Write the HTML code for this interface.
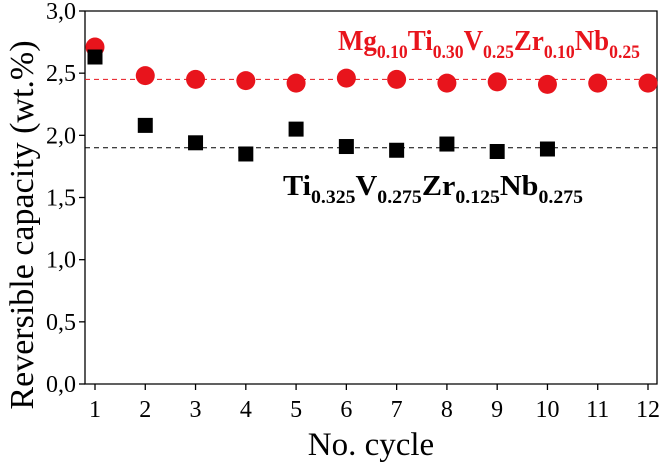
<!DOCTYPE html>
<html><head><meta charset="utf-8"><style>
body{margin:0;background:#fff}
svg{font-family:"Liberation Serif",serif}
</style></head><body>
<svg width="660" height="464" viewBox="0 0 660 464">
<g id="plot"></g>
<text x="338" y="50" font-size="29" font-weight="bold" fill="#e8141c" textLength="302" lengthAdjust="spacingAndGlyphs">Mg<tspan font-size="19" dy="8">0.10</tspan><tspan dy="-8">Ti</tspan><tspan font-size="19" dy="8">0.30</tspan><tspan dy="-8">V</tspan><tspan font-size="19" dy="8">0.25</tspan><tspan dy="-8">Zr</tspan><tspan font-size="19" dy="8">0.10</tspan><tspan dy="-8">Nb</tspan><tspan font-size="19" dy="8">0.25</tspan></text>
<text x="283" y="195" font-size="29" font-weight="bold" fill="#000" textLength="300" lengthAdjust="spacingAndGlyphs">Ti<tspan font-size="19" dy="8">0.325</tspan><tspan dy="-8">V</tspan><tspan font-size="19" dy="8">0.275</tspan><tspan dy="-8">Zr</tspan><tspan font-size="19" dy="8">0.125</tspan><tspan dy="-8">Nb</tspan><tspan font-size="19" dy="8">0.275</tspan></text>
<text transform="translate(33,225) rotate(-90)" text-anchor="middle" font-size="34">Reversible capacity (wt.%)</text>
<text x="371" y="455" text-anchor="middle" font-size="33">No. cycle</text>
</svg>
<script>
const cycles=[1,2,3,4,5,6,7,8,9,10,11,12];
const redValues=[2.71,2.48,2.45,2.44,2.42,2.46,2.45,2.42,2.43,2.41,2.42,2.42];
const blackCycles=[1,2,3,4,5,6,7,8,9,10];
const blackValues=[2.63,2.08,1.94,1.85,2.05,1.91,1.88,1.93,1.87,1.89];
const redMean=2.45, blackMean=1.90;
const yTicks=[0,0.5,1,1.5,2,2.5,3];
const yTickLabels=["0,0","0,5","1,0","1,5","2,0","2,5","3,0"];
const xTickLabels=["1","2","3","4","5","6","7","8","9","10","11","12"];
const L=85,R=657,T=11,B=384;
const xS=c=>95+(c-1)*(648-95)/11;
const yS=v=>B-(v/3)*(B-T);
const NS="http://www.w3.org/2000/svg";
const g=document.getElementById('plot');
function mk(t,a){const e=document.createElementNS(NS,t);for(const k in a)e.setAttribute(k,a[k]);g.appendChild(e);return e;}
let e=mk('polyline',{points:`${L},${T} ${L},${B} ${R},${B} ${R},${T} ${L},${T}`,fill:'none',stroke:'#000','stroke-width':1.3});


yTicks.forEach((v,i)=>{
 let t=mk('line',{x1:L-6,x2:L,y1:yS(v),y2:yS(v),stroke:'#000','stroke-width':1.3});
 
 
 let l=mk('text',{x:L-9,y:yS(v)+8,'text-anchor':'end','font-size':24});
 l.textContent=yTickLabels[i];
 
 
});
cycles.forEach((c,i)=>{
 let t=mk('line',{x1:xS(c),x2:xS(c),y1:B,y2:B+6,stroke:'#000','stroke-width':1.3});
 
 
 let l=mk('text',{x:xS(c),y:B+33,'text-anchor':'middle','font-size':24});
 l.textContent=xTickLabels[i];
 
 
});
e=mk('line',{x1:L,x2:R,y1:yS(redMean),y2:yS(redMean),stroke:'#e8141c','stroke-width':1,'stroke-dasharray':'5,4'});


e=mk('line',{x1:L,x2:R,y1:yS(blackMean),y2:yS(blackMean),stroke:'#000','stroke-width':1,'stroke-dasharray':'5,4'});


redValues.forEach((v,i)=>{
 let c=mk('circle',{cx:xS(cycles[i]),cy:yS(v),r:9.5,fill:'#e8141c'});
 
 
});
blackValues.forEach((v,i)=>{
 let s=mk('rect',{x:xS(blackCycles[i])-7.5,y:yS(v)-7.5,width:15,height:15,fill:'#000'});
 
 
});
</script>
</body></html>
